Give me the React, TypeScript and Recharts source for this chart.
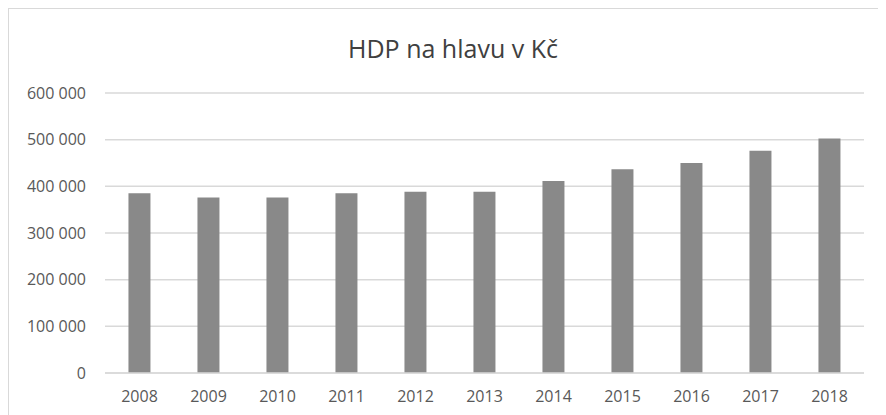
import { Bar, BarChart, CartesianGrid, XAxis, YAxis } from "recharts";

const years = ["2008", "2009", "2010", "2011", "2012", "2013", "2014", "2015", "2016", "2017", "2018"];
const hdp = [385000, 376000, 376000, 385000, 388500, 388500, 411500, 436500, 450000, 476000, 502500];
const yTicks = [0, 100000, 200000, 300000, 400000, 500000, 600000];

const data = years.map((y, i) => ({ year: y, hdp: hdp[i] }));

const fmt = (v: number) =>
  v === 0 ? "0" : `${Math.floor(v / 1000)} ${String(v % 1000).padStart(3, "0")}`;

const font = "'Open Sans', sans-serif";
const textColor = "#595959";

export default function App() {
  return (
    <div
      style={{
        position: "relative",
        width: 877,
        height: 406,
        borderTop: "1px solid #d9d9d9",
        borderLeft: "1px solid #d9d9d9",
        background: "#fff",
        fontFamily: font,
      }}
    >
      <div
        style={{
          position: "absolute",
          left: 0,
          width: 888,
          top: 23,
          textAlign: "center",
          fontSize: 25,
          color: "#404040",
          lineHeight: "32px",
        }}
      >
        HDP na hlavu v Kč
      </div>
      <BarChart
        width={877}
        height={406}
        data={data}
        margin={{ top: 84, right: 22, bottom: 0, left: 0 }}
        barCategoryGap="34%"
      >
        <CartesianGrid vertical={false} stroke="#d9d9d9" strokeWidth={1.5} />
        <XAxis
          dataKey="year"
          axisLine={{ stroke: "#d9d9d9", strokeWidth: 1.5 }}
          tickLine={false}
          tickSize={0}
          tickMargin={18}
          tick={{ fontSize: 16, fill: textColor, fontFamily: font }}
          height={42}
        />
        <YAxis
          width={96}
          domain={[0, 600000]}
          ticks={yTicks}
          tickFormatter={fmt}
          axisLine={false}
          tickLine={false}
          tickSize={0}
          tickMargin={19}
          tick={{ fontSize: 16, fill: textColor, fontFamily: font }}
        />
        <Bar dataKey="hdp" fill="#898989" isAnimationActive={false} />
      </BarChart>
    </div>
  );
}
